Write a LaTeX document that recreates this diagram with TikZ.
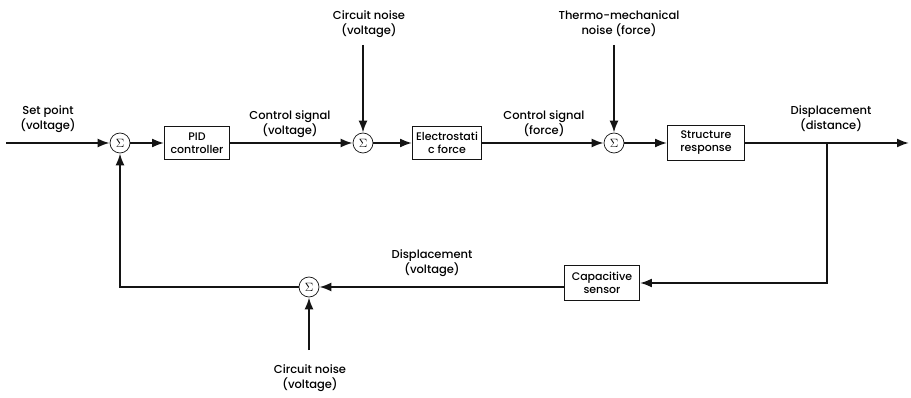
\documentclass[tikz,border=0pt]{standalone}
\usepackage{fontspec}
\setmainfont{Poppins}[UprightFont=* Medium,BoldFont=* SemiBold]
\usepackage{tikz}
\usetikzlibrary{arrows.meta,positioning,calc}
\definecolor{linegray}{RGB}{20,20,20}

\begin{document}
\begin{tikzpicture}[x=1pt,y=-1pt,
  block/.style={draw=linegray,line width=0.9pt,minimum height=33pt,align=center,
    inner sep=1pt,font=\fontsize{11}{13}\selectfont},
  sumnode/.style={draw=linegray,circle,line width=0.7pt,minimum size=20pt,inner sep=0pt,
    font=\large},
  lbl/.style={align=center,font=\fontsize{11.5}{15}\selectfont},
  sig/.style={line width=2pt,draw=linegray,-{Latex[length=12pt,width=9pt]}},
  wire/.style={line width=2pt,draw=linegray}]
  \useasboundingbox (0,0) rectangle (911,398);
  % forward path
  \coordinate (in) at (6,143);
  \node[sumnode] (s1) at (120,143) {$\Sigma$};
  \node[block,minimum width=65pt] (pid) at (197,143) {PID\\controller};
  \node[sumnode] (s2) at (363,143) {$\Sigma$};
  \node[block,minimum width=69pt] (es) at (447,143) {Electrostati\\c force};
  \node[sumnode] (s3) at (614,143) {$\Sigma$};
  \node[block,minimum width=77pt,minimum height=35pt] (sr) at (706,143) {Structure\\response};
  \coordinate (out) at (909,143);
  \coordinate (tap) at (827,143);
  % feedback path
  \node[block,minimum width=75pt,minimum height=35pt] (cs) at (602,283) {Capacitive\\sensor};
  \node[sumnode] (s4) at (309,287) {$\Sigma$};
  \coordinate (n1) at (363,45);
  \coordinate (n2) at (614,45);
  \coordinate (n3) at (309,350);
  % labels
  \node[lbl] at (48,119) {Set point\\(voltage)};
  \node[lbl] at (290,124) {Control signal\\(voltage)};
  \node[lbl] at (369,24) {Circuit noise\\(voltage)};
  \node[lbl] at (544,124) {Control signal\\(force)};
  \node[lbl] at (619,24) {Thermo-mechanical\\noise (force)};
  \node[lbl] at (831,119) {Displacement\\(distance)};
  \node[lbl] at (432,263) {Displacement\\(voltage)};
  \node[lbl] at (310,378) {Circuit noise\\(voltage)};

  \draw[sig] (in) -- (s1);
  \draw[sig] (s1) -- (pid);
  \draw[sig] (pid) -- (s2);
  \draw[sig] (n1) -- (s2);
  \draw[sig] (s2) -- (es);
  \draw[sig] (es) -- (s3);
  \draw[sig] (n2) -- (s3);
  \draw[sig] (s3) -- (sr);
  \draw[sig] (sr) -- (out);
  \draw[sig] (tap) |- (cs.east |- 0,283);
  \draw[sig] (cs.west |- s4) -- (s4);
  \draw[sig] (n3) -- (s4);
  \draw[sig] (s4) -| (s1);
\end{tikzpicture}
\end{document}
